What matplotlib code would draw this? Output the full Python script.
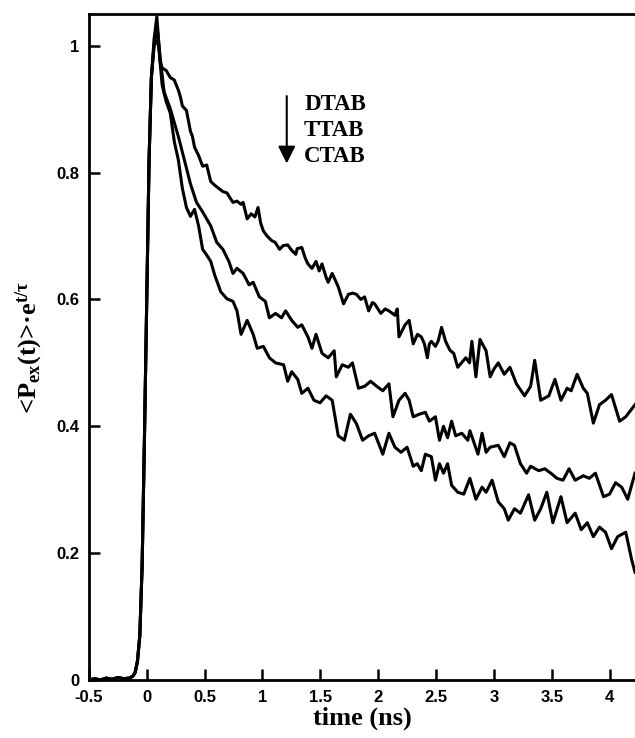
import numpy as np
import matplotlib
matplotlib.use('Agg')
import matplotlib.pyplot as plt

plt.rcParams['mathtext.fontset'] = 'custom'
plt.rcParams['mathtext.rm'] = 'Liberation Serif:bold'
plt.rcParams['mathtext.it'] = 'Liberation Serif:bold'
plt.rcParams['mathtext.bf'] = 'Liberation Serif:bold'

# shared rising edge (all three curves overlap here)
rise_t = [-0.5, -0.45, -0.4, -0.35, -0.3, -0.25, -0.2, -0.15, -0.12, -0.1,
          -0.08, -0.06, -0.04, -0.02, 0.0, 0.02, 0.04]
rise_p = [0.0, 0.002, 0.0, 0.003, 0.001, 0.004, 0.002, 0.003, 0.006, 0.012,
          0.03, 0.07, 0.18, 0.38, 0.6, 0.82, 0.95]

dtab = [(0.063, 1.01), (0.087, 1.046), (0.098, 1.02), (0.115, 0.975), (0.133, 0.965),
        (0.168, 0.961), (0.203, 0.95), (0.238, 0.946), (0.273, 0.93), (0.290, 0.92),
        (0.308, 0.905), (0.343, 0.898), (0.378, 0.865), (0.395, 0.857), (0.413, 0.84),
        (0.448, 0.827), (0.483, 0.81), (0.518, 0.812), (0.553, 0.786), (0.588, 0.78),
        (0.623, 0.775), (0.658, 0.77), (0.693, 0.768), (0.72, 0.76), (0.745, 0.753),
        (0.78, 0.755), (0.815, 0.75), (0.833, 0.753), (0.868, 0.727), (0.903, 0.735),
        (0.935, 0.73), (0.962, 0.745), (0.985, 0.72), (1.008, 0.708), (1.04, 0.70),
        (1.078, 0.693), (1.11, 0.69), (1.148, 0.679), (1.18, 0.685), (1.218, 0.686),
        (1.25, 0.678), (1.288, 0.671), (1.30, 0.68), (1.340, 0.682), (1.37, 0.665),
        (1.393, 0.656), (1.428, 0.649), (1.463, 0.66), (1.49, 0.645), (1.515, 0.656),
        (1.55, 0.635), (1.568, 0.627), (1.603, 0.641), (1.638, 0.627), (1.655, 0.62),
        (1.701, 0.593), (1.743, 0.608), (1.78, 0.61), (1.813, 0.608), (1.85, 0.60),
        (1.883, 0.604), (1.918, 0.582), (1.95, 0.595), (1.97, 0.593), (2.023, 0.578),
        (2.06, 0.585), (2.093, 0.582), (2.145, 0.575), (2.165, 0.585), (2.180, 0.541),
        (2.233, 0.560), (2.268, 0.567), (2.303, 0.530), (2.34, 0.545), (2.373, 0.541),
        (2.40, 0.53), (2.425, 0.508), (2.443, 0.53), (2.460, 0.534), (2.495, 0.526),
        (2.52, 0.535), (2.548, 0.556), (2.583, 0.534), (2.62, 0.52), (2.653, 0.515),
        (2.688, 0.493), (2.72, 0.50), (2.758, 0.508), (2.790, 0.50), (2.810, 0.534),
        (2.845, 0.478), (2.880, 0.537), (2.933, 0.519), (2.968, 0.478), (3.0, 0.49),
        (3.038, 0.500), (3.09, 0.482), (3.139, 0.493), (3.195, 0.467), (3.265, 0.448),
        (3.318, 0.463), (3.353, 0.504), (3.405, 0.441), (3.475, 0.448), (3.528, 0.474),
        (3.58, 0.441), (3.633, 0.460), (3.668, 0.456), (3.720, 0.482), (3.773, 0.460),
        (3.808, 0.452), (3.860, 0.405), (3.913, 0.434), (3.965, 0.441), (4.017, 0.450),
        (4.087, 0.408), (4.14, 0.415), (4.22, 0.434)]

ttab = [(0.063, 1.0), (0.09, 1.03), (0.115, 0.983), (0.150, 0.927), (0.203, 0.901),
        (0.273, 0.857), (0.325, 0.82), (0.378, 0.782), (0.430, 0.753), (0.483, 0.738),
        (0.553, 0.716), (0.605, 0.69), (0.658, 0.679), (0.710, 0.66), (0.745, 0.641),
        (0.780, 0.649), (0.833, 0.641), (0.885, 0.623), (0.920, 0.627), (0.973, 0.604),
        (1.025, 0.597), (1.060, 0.571), (1.113, 0.578), (1.165, 0.571), (1.200, 0.582),
        (1.253, 0.567), (1.305, 0.556), (1.340, 0.560), (1.393, 0.541), (1.428, 0.523),
        (1.463, 0.545), (1.515, 0.515), (1.568, 0.508), (1.620, 0.519), (1.638, 0.478),
        (1.690, 0.497), (1.743, 0.493), (1.778, 0.500), (1.830, 0.460), (1.883, 0.463),
        (1.935, 0.471), (1.988, 0.463), (2.040, 0.456), (2.093, 0.467), (2.128, 0.415),
        (2.180, 0.441), (2.233, 0.452), (2.268, 0.441), (2.303, 0.415), (2.355, 0.419),
        (2.408, 0.422), (2.443, 0.408), (2.495, 0.415), (2.530, 0.378), (2.565, 0.400),
        (2.600, 0.382), (2.635, 0.408), (2.670, 0.385), (2.723, 0.389), (2.775, 0.378),
        (2.793, 0.393), (2.863, 0.356), (2.898, 0.389), (2.933, 0.359), (2.968, 0.367),
        (3.038, 0.370), (3.090, 0.352), (3.139, 0.374), (3.178, 0.370), (3.230, 0.341),
        (3.283, 0.326), (3.318, 0.337), (3.388, 0.330), (3.440, 0.333), (3.493, 0.326),
        (3.545, 0.318), (3.598, 0.315), (3.650, 0.333), (3.703, 0.315), (3.773, 0.322),
        (3.825, 0.318), (3.878, 0.326), (3.948, 0.289), (4.000, 0.293), (4.052, 0.311),
        (4.105, 0.304), (4.157, 0.285), (4.22, 0.326)]

ctab = [(0.063, 1.0), (0.098, 1.009), (0.133, 0.938), (0.168, 0.912), (0.203, 0.894),
        (0.238, 0.849), (0.273, 0.82), (0.308, 0.775), (0.343, 0.745), (0.378, 0.731),
        (0.413, 0.742), (0.448, 0.716), (0.483, 0.679), (0.518, 0.67), (0.553, 0.66),
        (0.588, 0.638), (0.640, 0.612), (0.693, 0.601), (0.745, 0.597), (0.780, 0.582),
        (0.815, 0.545), (0.868, 0.567), (0.920, 0.545), (0.955, 0.523), (1.008, 0.526),
        (1.060, 0.508), (1.113, 0.500), (1.183, 0.497), (1.218, 0.471), (1.253, 0.486),
        (1.305, 0.474), (1.340, 0.452), (1.393, 0.460), (1.445, 0.441), (1.498, 0.437),
        (1.550, 0.448), (1.603, 0.441), (1.655, 0.385), (1.708, 0.378), (1.760, 0.419),
        (1.813, 0.404), (1.865, 0.378), (1.918, 0.385), (1.970, 0.389), (2.040, 0.356),
        (2.093, 0.389), (2.145, 0.367), (2.198, 0.359), (2.250, 0.367), (2.303, 0.337),
        (2.338, 0.341), (2.373, 0.330), (2.408, 0.356), (2.460, 0.352), (2.495, 0.315),
        (2.530, 0.341), (2.565, 0.326), (2.600, 0.341), (2.635, 0.307), (2.688, 0.296),
        (2.740, 0.293), (2.793, 0.318), (2.845, 0.285), (2.898, 0.304), (2.933, 0.296),
        (2.985, 0.315), (3.038, 0.281), (3.090, 0.270), (3.125, 0.252), (3.178, 0.270),
        (3.230, 0.263), (3.300, 0.292), (3.353, 0.252), (3.405, 0.270), (3.458, 0.296),
        (3.510, 0.248), (3.580, 0.289), (3.633, 0.248), (3.703, 0.263), (3.755, 0.237),
        (3.808, 0.248), (3.860, 0.226), (3.913, 0.241), (3.965, 0.233), (4.017, 0.207),
        (4.070, 0.226), (4.140, 0.233), (4.192, 0.189), (4.22, 0.17)]

labels = ['DTAB', 'TTAB', 'CTAB']

fig = plt.figure(figsize=(6.35, 7.38), dpi=100)
ax = fig.add_axes([0.14, 0.0786, 0.86, 0.9024])

for tail in [dtab, ttab, ctab]:
    t = rise_t + [p[0] for p in tail]
    y = rise_p + [p[1] for p in tail]
    ax.plot(t, y, color='black', lw=2.2, solid_joinstyle='round')

ax.set_xlim(-0.5, 4.22)
ax.set_ylim(0, 1.05)
ax.set_xticks(np.arange(-0.5, 4.01, 0.5))
ax.set_xticklabels(['-0.5', '0', '0.5', '1', '1.5', '2', '2.5', '3', '3.5', '4'])
ax.set_yticks([0, 0.2, 0.4, 0.6, 0.8, 1.0])
ax.set_yticklabels(['0', '0.2', '0.4', '0.6', '0.8', '1'])
ax.tick_params(direction='in', length=8, width=1.8, labelsize=12, pad=7)
for lab in ax.get_xticklabels() + ax.get_yticklabels():
    lab.set_fontfamily('Liberation Sans')
    lab.set_fontweight('bold')
for s in ['left', 'bottom', 'top']:
    ax.spines[s].set_linewidth(2.0)
ax.spines['right'].set_visible(False)

ax.set_xlabel('time (ns)', fontfamily='Liberation Serif', fontweight='bold',
              fontsize=19, labelpad=1)
ax.set_ylabel('<P$_{ex}$(t)>·e$^{t/τ}$', fontfamily='Liberation Serif',
              fontweight='bold', fontsize=19, labelpad=8)

# legend-like annotation with arrow
ax.annotate('', xy=(1.21, 0.81), xytext=(1.21, 0.925),
            arrowprops=dict(arrowstyle='-|>', lw=1.5, color='black', mutation_scale=26))
for i, name in enumerate(labels):
    ax.text(1.36, 0.908 - i * 0.041, name, fontfamily='Liberation Serif',
            fontweight='bold', fontsize=16.5, va='center', ha='left')

fig.savefig('out.png', dpi=100)
